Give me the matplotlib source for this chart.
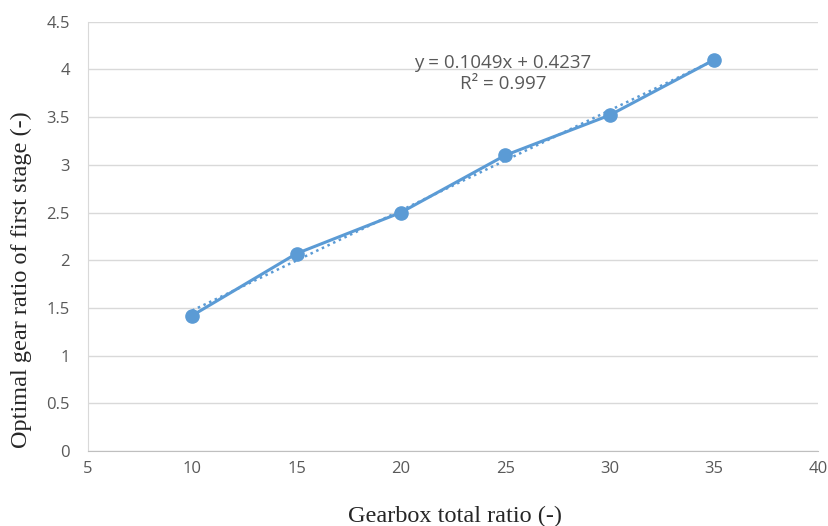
import matplotlib.pyplot as plt

# data
total_ratio = [10, 15, 20, 25, 30, 35]
first_stage = [1.42, 2.07, 2.50, 3.10, 3.52, 4.10]

# trendline shown on the chart
slope = 0.1049
intercept = 0.4237
r2 = 0.997

blue = '#5B9BD5'
grey_text = '#595959'

fig = plt.figure(figsize=(8.29, 5.26), dpi=100)
ax = fig.add_axes([0.106, 0.1426, 0.881, 0.816])

trend_x = [total_ratio[0], total_ratio[-1]]
trend_y = [slope * v + intercept for v in trend_x]
ax.plot(trend_x, trend_y, color=blue, linestyle=(0, (1, 1.5)), linewidth=1.8, zorder=2)

ax.plot(total_ratio, first_stage, color=blue, linewidth=2.2,
        marker='o', markersize=9.5, zorder=3)

ax.set_xlim(5, 40)
ax.set_ylim(0, 4.5)
ax.set_xticks(range(5, 41, 5))
ax.set_yticks([0, 0.5, 1, 1.5, 2, 2.5, 3, 3.5, 4, 4.5])
ax.set_yticklabels(['0', '0.5', '1', '1.5', '2', '2.5', '3', '3.5', '4', '4.5'])

ax.grid(axis='y', color='#D9D9D9', linewidth=1)
ax.set_axisbelow(True)
for side in ['top', 'right']:
    ax.spines[side].set_visible(False)
ax.spines['left'].set_color('#D9D9D9')
ax.spines['bottom'].set_color('#BFBFBF')
ax.tick_params(length=0, labelsize=12, labelcolor=grey_text)
ax.tick_params(axis='x', pad=7)
ax.tick_params(axis='y', pad=13)
for lbl in ax.get_xticklabels() + ax.get_yticklabels():
    lbl.set_family('Open Sans')

ax.set_xlabel('Gearbox total ratio (-)', family='Liberation Serif',
              fontsize=17.5, color='#262626')
ax.xaxis.set_label_coords(0.502, -0.128)
ax.set_ylabel('Optimal gear ratio of first stage (-)', family='Liberation Serif',
              fontsize=17.5, color='#262626')
ax.yaxis.set_label_coords(-0.077, 0.40)

ax.text(24.9, 3.96, f'y = {slope}x + {intercept}\nR² = {r2}', ha='center', va='center',
        fontsize=13.5, color=grey_text, family='Open Sans', linespacing=1.25)

plt.savefig('out.png', dpi=100)
